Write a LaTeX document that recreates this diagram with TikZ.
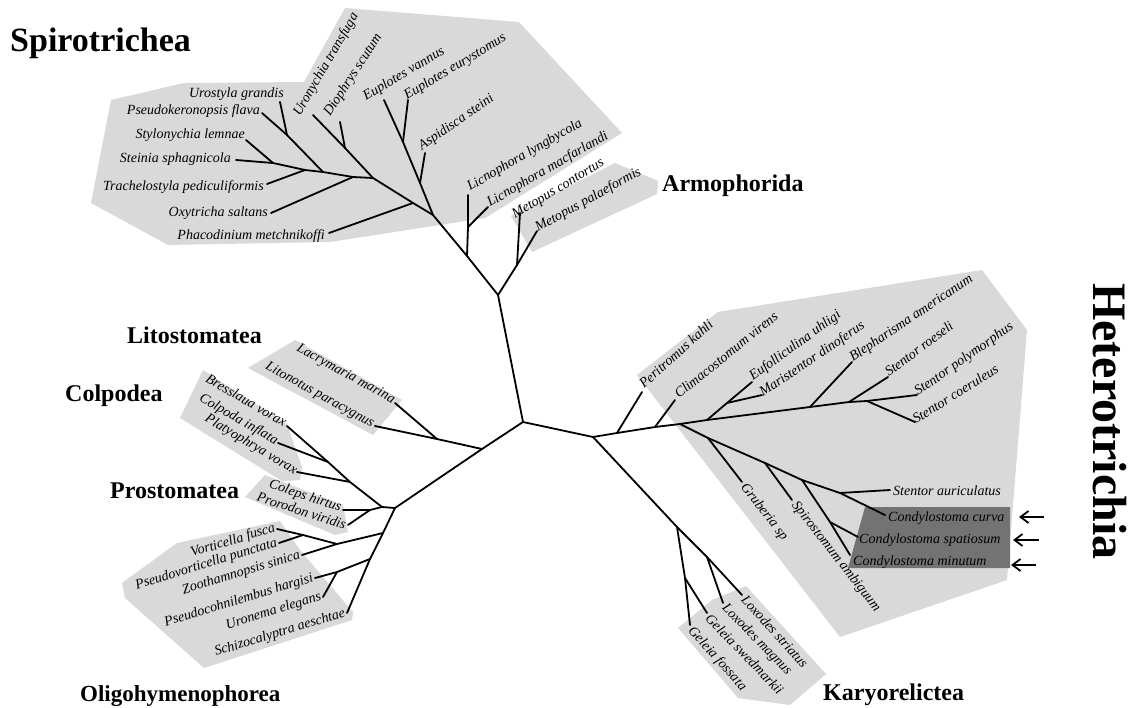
\documentclass[tikz,border=0pt]{standalone}
\usepackage{fontspec}
\setmainfont{Liberation Serif}
\usetikzlibrary{arrows.meta}
\definecolor{cladegray}{gray}{0.85}
\definecolor{condygray}{gray}{0.45}
\begin{document}
\begin{tikzpicture}[x=1pt, y=-1pt,
  branch/.style={line width=1.8pt, line join=round, line cap=round},
  taxon/.style={font=\fontsize{14}{16}\selectfont\itshape, inner sep=0pt},
  group/.style={font=\fontsize{24}{28}\selectfont\bfseries, inner sep=0pt},
  clade/.style={fill=cladegray},
  marker/.style={line width=1.8pt, -{Straight Barb[length=8pt,width=12pt]}}]
  \fill[white] (0,0) rectangle (1131,708);
  \useasboundingbox (0,0) rectangle (1131,708);
  % Clade shading
  \fill[clade] (168,245) -- (91,203) -- (111,100) -- (184,83) -- (304,82) -- (345,8) -- (519,22) -- (622,133) -- (485,218) -- (330,242) -- cycle;
  \fill[clade] (511,216) -- (615,163) -- (658,181) -- (657,194) -- (532,252) -- cycle;
  \fill[clade] (248,368) -- (295,340) -- (402,400) -- (373,435) -- cycle;
  \fill[clade] (180,418) -- (203,370) -- (287,424) -- (302,467) -- (300,480) -- (282,481) -- cycle;
  \fill[clade] (245,497) -- (265,475) -- (343,505) -- (348,532) -- (335,535) -- cycle;
  \fill[clade] (122,583) -- (177,543) -- (280,521) -- (300,550) -- (353,612) -- (352,620) -- (204,668) -- (125,598) -- cycle;
  \fill[clade] (637,375) -- (718,312) -- (982,270) -- (1027,330) -- (1007,580) -- (840,637) -- cycle;
  \fill[clade] (678,628) -- (712,600) -- (746,586) -- (826,674) -- (790,705) -- (738,698) -- cycle;
  \fill[condygray] (865,507) -- (1010,507) -- (1010,568) -- (848,568) -- cycle;
  % Joints and tips
  \coordinate (root) at (523,422);
  \coordinate (jT) at (498,295);
  \coordinate (jLn) at (467,256);
  \coordinate (jLc) at (468,227);
  \coordinate (tLl) at (468,195);
  \coordinate (tLm) at (488,207);
  \coordinate (jMe) at (517,265);
  \coordinate (tMc) at (520,213);
  \coordinate (tMp) at (537,231);
  \coordinate (jA) at (433,215);
  \coordinate (jAs) at (420,183);
  \coordinate (tAs) at (425,153);
  \coordinate (jEp) at (403,142);
  \coordinate (tEv) at (384,100);
  \coordinate (tEe) at (408,100);
  \coordinate (jPc) at (413,203);
  \coordinate (tPc) at (329,233);
  \coordinate (jB) at (373,178);
  \coordinate (jDi) at (345,148);
  \coordinate (tUt) at (313,115);
  \coordinate (tDs) at (340,122);
  \coordinate (jOx) at (353,177);
  \coordinate (tOx) at (271,213);
  \coordinate (jD) at (323,172);
  \coordinate (jUr) at (287,135);
  \coordinate (tPf) at (262,113);
  \coordinate (tUg) at (280,102);
  \coordinate (jTr) at (305,170);
  \coordinate (tTp) at (267,184);
  \coordinate (jSt) at (273,163);
  \coordinate (tSl) at (246,140);
  \coordinate (tSs) at (236,160);
  \coordinate (jR) at (593,437);
  \coordinate (jPe) at (617,433);
  \coordinate (tPe) at (642,392);
  \coordinate (jCl) at (655,427);
  \coordinate (tCl) at (675,400);
  \coordinate (jH) at (680,424);
  \coordinate (jEM) at (707,420);
  \coordinate (jEu) at (727,403);
  \coordinate (tEu) at (752,382);
  \coordinate (tMa) at (762,395);
  \coordinate (jBl) at (810,407);
  \coordinate (tBl) at (852,362);
  \coordinate (jSr) at (849,402);
  \coordinate (tSr) at (888,377);
  \coordinate (jSc) at (867,401);
  \coordinate (tSp) at (917,395);
  \coordinate (tSc) at (915,422);
  \coordinate (jGr) at (708,438);
  \coordinate (tGr) at (742,482);
  \coordinate (jSa) at (765,463);
  \coordinate (tSa) at (792,500);
  \coordinate (jCo) at (802,480);
  \coordinate (jCs) at (830,522);
  \coordinate (tCs) at (858,537);
  \coordinate (tCm) at (850,555);
  \coordinate (jSu) at (840,493);
  \coordinate (tSu) at (890,490);
  \coordinate (tCc) at (885,515);
  \coordinate (jK) at (677,527);
  \coordinate (jLo) at (707,557);
  \coordinate (tLs) at (742,595);
  \coordinate (tLg) at (723,603);
  \coordinate (jGe) at (685,578);
  \coordinate (tGf) at (690,625);
  \coordinate (tGs) at (707,613);
  \coordinate (jL) at (482,449);
  \coordinate (jLi) at (437,439);
  \coordinate (tLp) at (375,426);
  \coordinate (tLa) at (395,403);
  \coordinate (jLL) at (395,508);
  \coordinate (jCP) at (382,507);
  \coordinate (jPr) at (370,510);
  \coordinate (tCh) at (343,510);
  \coordinate (tPv) at (348,525);
  \coordinate (jCd) at (350,482);
  \coordinate (tPy) at (297,472);
  \coordinate (jBC) at (328,462);
  \coordinate (tBv) at (287,426);
  \coordinate (tCi) at (278,443);
  \coordinate (jO1) at (383,533);
  \coordinate (jO2) at (370,559);
  \coordinate (tSch) at (347,613);
  \coordinate (jZo) at (337,544);
  \coordinate (tZs) at (302,555);
  \coordinate (jVo) at (303,535);
  \coordinate (tVf) at (277,529);
  \coordinate (tPp) at (279,543);
  \coordinate (jPu) at (337,572);
  \coordinate (tPh) at (315,578);
  \coordinate (tUe) at (323,597);
  \coordinate (a1s) at (1044,517);
  \coordinate (a1e) at (1019,517);
  \coordinate (a2s) at (1039,540);
  \coordinate (a2e) at (1013,540);
  \coordinate (a3s) at (1036,565);
  \coordinate (a3e) at (1011,565);
  % Connections
  \draw[branch] (jT) -- (root) -- (jR);
  \draw[branch] (root) -- (jL);
  \draw[branch] (jT) -- (jLn) -- (jA);
  \draw[branch] (jLn) -- (jLc) -- (tLl);
  \draw[branch] (jLc) -- (tLm);
  \draw[branch] (jT) -- (jMe) -- (tMc);
  \draw[branch] (jMe) -- (tMp);
  \draw[branch] (jA) -- (jAs) -- (jEp) -- (tEv);
  \draw[branch] (jEp) -- (tEe);
  \draw[branch] (jAs) -- (tAs);
  \draw[branch] (jA) -- (jPc) -- (jB) -- (jDi) -- (tUt);
  \draw[branch] (jDi) -- (tDs);
  \draw[branch] (jPc) -- (tPc);
  \draw[branch] (jB) -- (jOx) -- (jD) -- (jTr) -- (jSt) -- (tSs);
  \draw[branch] (jOx) -- (tOx);
  \draw[branch] (jD) -- (jUr) -- (tPf);
  \draw[branch] (jUr) -- (tUg);
  \draw[branch] (jTr) -- (tTp);
  \draw[branch] (jSt) -- (tSl);
  \draw[branch] (jR) -- (jPe) -- (jCl) -- (jH) -- (jEM) -- (jBl) -- (jSr) -- (jSc) -- (tSp);
  \draw[branch] (jPe) -- (tPe);
  \draw[branch] (jCl) -- (tCl);
  \draw[branch] (jEM) -- (jEu) -- (tEu);
  \draw[branch] (jEu) -- (tMa);
  \draw[branch] (jBl) -- (tBl);
  \draw[branch] (jSr) -- (tSr);
  \draw[branch] (jSc) -- (tSc);
  \draw[branch] (jH) -- (jGr) -- (jSa) -- (jCo) -- (jSu) -- (tCc);
  \draw[branch] (jGr) -- (tGr);
  \draw[branch] (jSa) -- (tSa);
  \draw[branch] (jCo) -- (jCs) -- (tCm);
  \draw[branch] (jCs) -- (tCs);
  \draw[branch] (jSu) -- (tSu);
  \draw[branch] (jR) -- (jK) -- (jLo) -- (tLs);
  \draw[branch] (jLo) -- (tLg);
  \draw[branch] (jK) -- (jGe) -- (tGf);
  \draw[branch] (jGe) -- (tGs);
  \draw[branch] (jL) -- (jLi) -- (tLp);
  \draw[branch] (jLi) -- (tLa);
  \draw[branch] (jL) -- (jLL) -- (jCP) -- (jPr) -- (tCh);
  \draw[branch] (jPr) -- (tPv);
  \draw[branch] (jCP) -- (jCd) -- (tPy);
  \draw[branch] (jCd) -- (jBC) -- (tBv);
  \draw[branch] (jBC) -- (tCi);
  \draw[branch] (jLL) -- (jO1) -- (jO2) -- (tSch);
  \draw[branch] (jO1) -- (jZo) -- (tZs);
  \draw[branch] (jZo) -- (jVo) -- (tVf);
  \draw[branch] (jVo) -- (tPp);
  \draw[branch] (jO2) -- (jPu) -- (tPh);
  \draw[branch] (jPu) -- (tUe);
  \draw[marker] (a1s) -- (a1e);
  \draw[marker] (a2s) -- (a2e);
  \draw[marker] (a3s) -- (a3e);
  % Spirotrichea and Armophorida taxa
  \node[taxon, anchor=base east] (lUg) at (284,98) {Urostyla grandis};
  \node[taxon, anchor=base east] (lPf) at (260,115) {Pseudokeronopsis flava};
  \node[taxon, anchor=base east] (lSl) at (245,139) {Stylonychia lemnae};
  \node[taxon, anchor=base east] (lSs) at (231,163) {Steinia sphagnicola};
  \node[taxon, anchor=base east] (lTp) at (264,191) {Trachelostyla pediculiformis};
  \node[taxon, anchor=base east] (lOx) at (268,217) {Oxytricha saltans};
  \node[taxon, anchor=base east] (lPc) at (325,240) {Phacodinium metchnikoffi};
  \node[taxon, anchor=base west, rotate=60] (lUt) at (300,117) {Uronychia transfuga};
  \node[taxon, anchor=base west, rotate=57] (lDs) at (330,117) {Diophrys scutum};
  \node[taxon, anchor=base west, rotate=31] (lEv) at (366,101) {Euplotes vannus};
  \node[taxon, anchor=base west, rotate=31] (lEe) at (407,100) {Euplotes eurystomus};
  \node[taxon, anchor=base west, rotate=35] (lAs) at (422,151) {Aspidisca steini};
  \node[taxon, anchor=base west, rotate=30] (lLl) at (470,191) {Licnophora lyngbycola};
  \node[taxon, anchor=base west, rotate=30] (lLm) at (490,207) {Licnophora macfarlandi};
  \node[taxon, anchor=base west, rotate=31] (lMc) at (515,219) {Metopus contortus};
  \node[taxon, anchor=base west, rotate=29] (lMp) at (538,232) {Metopus palaeformis};
  % Heterotrichia taxa
  \node[taxon, anchor=base west, rotate=42] (lPe) at (644,389) {Peritromus kahli};
  \node[taxon, anchor=base west, rotate=39] (lCl) at (679,399) {Climacostomum virens};
  \node[taxon, anchor=base west, rotate=36] (lEu) at (753,381) {Eufolliculina uhligi};
  \node[taxon, anchor=base west, rotate=34] (lMa) at (763,397) {Maristentor dinoferus};
  \node[taxon, anchor=base west, rotate=34] (lBl) at (853,362) {Blepharisma americanum};
  \node[taxon, anchor=base west, rotate=37] (lSr) at (889,377) {Stentor roeseli};
  \node[taxon, anchor=base west, rotate=35] (lSp) at (918,396) {Stentor polymorphus};
  \node[taxon, anchor=base west, rotate=32] (lSc) at (916,424) {Stentor coeruleus};
  \node[taxon, anchor=west, rotate=-52] (lGr) at (743,485) {Gruberia sp};
  \node[taxon, anchor=west, rotate=-52] (lSa) at (794,503) {Spirostomum ambiguum};
  \node[taxon, anchor=base west] (lSu) at (893,495) {Stentor auriculatus};
  \node[taxon, anchor=base west] (lCc) at (888,521) {Condylostoma curva};
  \node[taxon, anchor=base west] (lCs) at (859,543) {Condylostoma spatiosum};
  \node[taxon, anchor=base west] (lCm) at (853,565) {Condylostoma minutum};
  % Karyorelictea taxa
  \node[taxon, anchor=west, rotate=-48] (lLs) at (744,597) {Loxodes striatus};
  \node[taxon, anchor=west, rotate=-46] (lLg) at (724,606) {Loxodes magnus};
  \node[taxon, anchor=west, rotate=-46] (lGs) at (708,616) {Geleia swedmarkii};
  \node[taxon, anchor=west, rotate=-48] (lGf) at (690,629) {Geleia fossata};
  % Litostomatea, Colpodea, Prostomatea, Oligohymenophorea taxa
  \node[taxon, anchor=east, rotate=-29] (lLa) at (394,401) {Lacrymaria marina};
  \node[taxon, anchor=east, rotate=-29] (lLp) at (373,425) {Litonotus paracygnus};
  \node[taxon, anchor=east, rotate=-30] (lBv) at (286,423) {Bresslaua vorax};
  \node[taxon, anchor=east, rotate=-30] (lCi) at (277,442) {Colpoda inflata};
  \node[taxon, anchor=east, rotate=-31] (lPy) at (296,472) {Platyophrya vorax};
  \node[taxon, anchor=east, rotate=-18] (lCh) at (341,508) {Coleps hirtus};
  \node[taxon, anchor=east, rotate=-18] (lPv) at (346,525) {Prorodon viridis};
  \node[taxon, anchor=east, rotate=17] (lVf) at (275,528) {Vorticella fusca};
  \node[taxon, anchor=east, rotate=17] (lPp) at (277,543) {Pseudovorticella punctata};
  \node[taxon, anchor=east, rotate=17] (lZs) at (300,555) {Zoothamnopsis sinica};
  \node[taxon, anchor=east, rotate=17] (lPh) at (313,578) {Pseudocohnilembus hargisi};
  \node[taxon, anchor=east, rotate=17] (lUe) at (321,597) {Uronema elegans};
  \node[taxon, anchor=east, rotate=17] (lSch) at (345,613) {Schizocalyptra aeschtae};
  % Class names
  \node[group, font=\fontsize{34}{38}\selectfont\bfseries, anchor=base west] (gSpi) at (10,52) {Spirotrichea};
  \node[group, anchor=base west] (gArm) at (662,192) {Armophorida};
  \node[group, anchor=base west] (gLit) at (127,343) {Litostomatea};
  \node[group, anchor=base west] (gCol) at (65,401) {Colpodea};
  \node[group, anchor=base west] (gPro) at (110,498) {Prostomatea};
  \node[group, font=\fontsize{23}{27}\selectfont\bfseries, anchor=base west] (gOli) at (80,701) {Oligohymenophorea};
  \node[group, anchor=base west] (gKar) at (823,700) {Karyorelictea};
  \node[group, font=\fontsize{48}{52}\selectfont\bfseries, anchor=base west, rotate=-90] (gHet) at (1093,283) {Heterotrichia};
\end{tikzpicture}
\end{document}
